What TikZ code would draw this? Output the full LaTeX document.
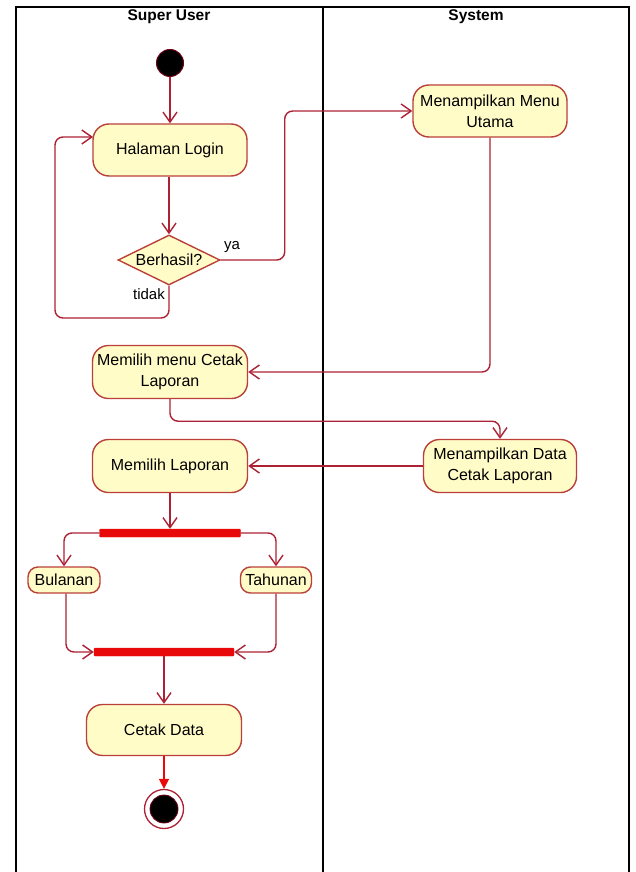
\documentclass[tikz,border=0pt]{standalone}
\usepackage{fontspec}
\setmainfont{Liberation Sans}
\usetikzlibrary{arrows.meta,shapes.geometric,calc}

\definecolor{flowred}{RGB}{172,34,52}
\definecolor{actfill}{RGB}{255,252,200}
\definecolor{actline}{RGB}{186,64,58}
\definecolor{barred}{RGB}{232,10,10}
\definecolor{dotrim}{RGB}{110,0,24}

\tikzset{
  activity/.style={draw=actline, fill=actfill, line width=1.4pt,
    rounded corners=16pt, align=center, inner sep=0pt,
    font=\fontsize{16}{21}\selectfont},
  smallact/.style={activity, rounded corners=10pt},
  decision/.style={draw=actline, fill=actfill, line width=1.4pt,
    diamond, aspect=2, inner sep=0pt, minimum width=102pt, minimum height=50pt,
    font=\fontsize{16}{18}\selectfont},
  syncbar/.style={fill=barred, draw=barred, rounded corners=1pt,
    minimum height=8pt, inner sep=0pt},
  flow/.style={draw=flowred, line width=1.4pt, rounded corners=8pt,
    -{Straight Barb[length=10pt,width=14pt,line width=1.4pt]}},
  lanehead/.style={font=\bfseries\fontsize{15.5}{18}\selectfont},
  guard/.style={font=\fontsize{15}{16}\selectfont, inner sep=0pt}
}

\begin{document}
\begin{tikzpicture}[x=1pt, y=-1pt]
  \useasboundingbox (0,0) rectangle (635,872);
  \fill[white] (0,0) rectangle (635,872);

  % swimlane frame
  \draw[line width=1.4pt] (16,872) -- (16,7) -- (629,7) -- (629,872);
  \draw[line width=1.4pt] (323,7) -- (323,872);
  \node[lanehead] (laneA) at (169,17) {Super User};
  \node[lanehead] (laneB) at (476,17) {System};

  % initial and final states
  \node[circle, fill=black, draw=dotrim, line width=1pt, minimum size=27pt, inner sep=0pt] (start) at (170,63) {};
  \node[circle, draw=flowred, line width=1.3pt, fill=white, minimum size=39pt, inner sep=0pt] (stop) at (164,809) {};
  \node[circle, fill=black, draw=dotrim, line width=0.8pt, minimum size=28pt, inner sep=0pt] (stopdot) at (stop.center) {};

  % actions
  \node[activity, minimum width=154pt, minimum height=52pt] (login) at (170,150) {Halaman Login};
  \node[decision] (dia) at (169,260) {Berhasil?};
  \node[activity, minimum width=154pt, minimum height=52pt] (menu) at (490,111) {Menampilkan Menu\\Utama};
  \node[activity, minimum width=155pt, minimum height=53pt] (pilihmenu) at (170,372) {Memilih menu Cetak\\Laporan};
  \node[activity, minimum width=153pt, minimum height=53pt] (data) at (500,466) {Menampilkan Data\\Cetak Laporan};
  \node[activity, minimum width=155pt, minimum height=53pt] (laporan) at (170,466) {Memilih Laporan};
  \node[syncbar, minimum width=141pt] (fork) at (170,533) {};
  \node[smallact, minimum width=72pt, minimum height=26pt] (bul) at (64,580) {Bulanan};
  \node[smallact, minimum width=71pt, minimum height=26pt] (tah) at (276,580) {Tahunan};
  \node[syncbar, minimum width=140pt] (join) at (164,652) {};
  \node[activity, minimum width=155pt, minimum height=51pt] (cetak) at (164,730) {Cetak Data};

  % guard labels
  \node[guard] (ya) at (232,247) {ya};
  \node[guard] (tidak) at (149,294) {tidak};

  % return point on the login action
  \coordinate (loginin) at (93,137);
  \coordinate (loopx) at (55,318);

  % control flow
  \draw[flow] (start) -- (login);
  \draw[flow] (login.south -| dia.north) -- (dia.north);
  \draw[flow] (dia.east) -- ++(64,0) |- (menu.west);
  \draw[flow] (dia.south) |- (loopx) |- (loginin);
  \draw[flow] (menu.south) |- (pilihmenu.east);
  \draw[flow] (pilihmenu.south) -- ++(0,22) -| (data.north);
  \draw[flow] (data.west) -- (laporan.east);
  \draw[flow] (laporan.south) -- (fork.north);
  \draw[flow] (fork.west) -| (bul.north);
  \draw[flow] (fork.east) -| (tah.north);
  \draw[flow] ($(bul.south)+(2,0)$) |- (join.west);
  \draw[flow] (tah.south) |- (join.east);
  \draw[flow] (join.south) -- (cetak.north);
  \draw[draw=barred, line width=1.4pt, -{Triangle[length=10pt,width=10pt]}] (cetak.south) -- (stop.north);
\end{tikzpicture}
\end{document}
